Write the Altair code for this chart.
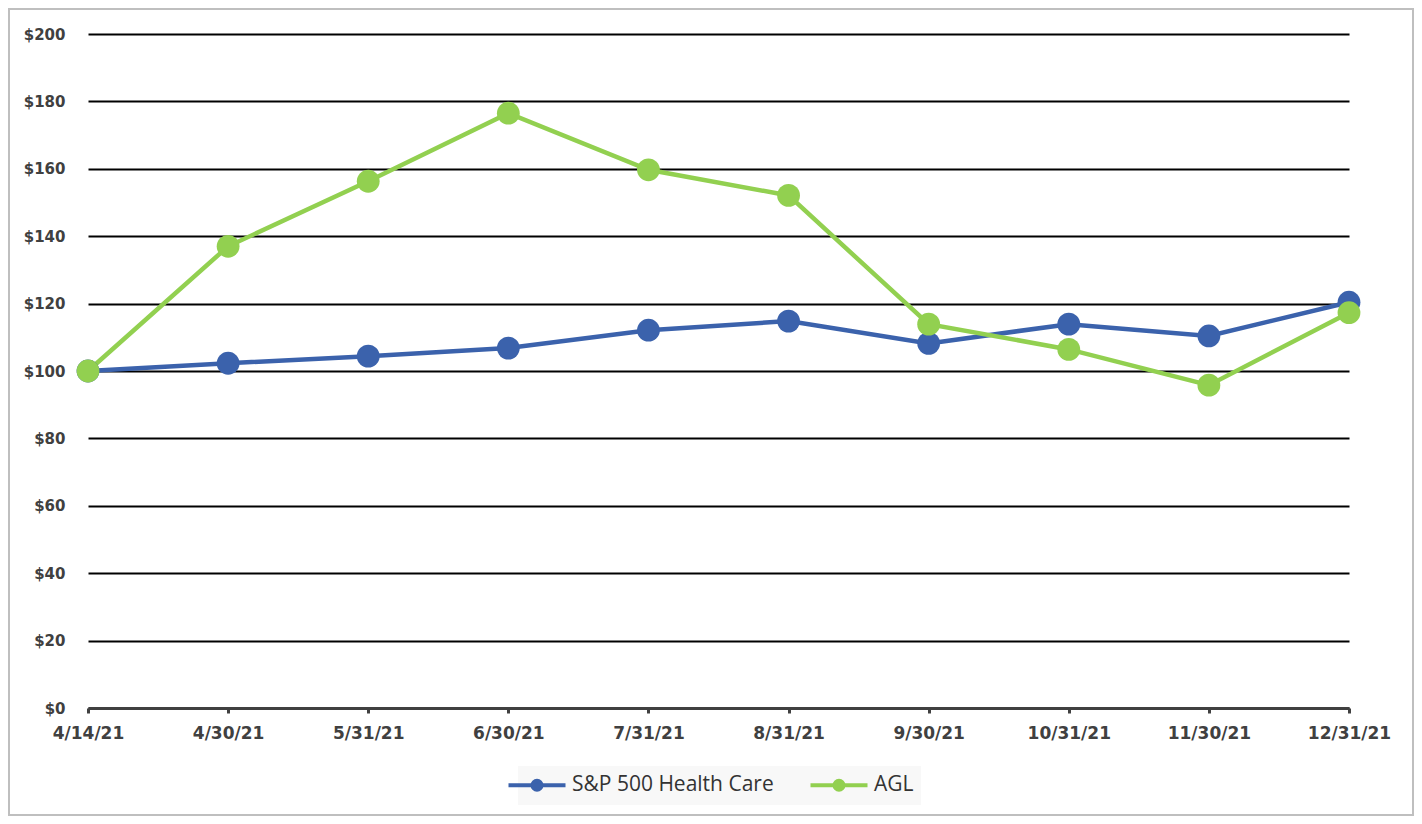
import altair as alt
import pandas as pd

dates = ["4/14/21", "4/30/21", "5/31/21", "6/30/21", "7/31/21", "8/31/21",
         "9/30/21", "10/31/21", "11/30/21", "12/31/21"]
sp_health = [100, 102.3, 104.4, 106.8, 112.1, 114.8, 108.2, 113.9, 110.4, 120.4]
agl = [100, 137.0, 156.3, 176.5, 159.7, 152.1, 113.9, 106.4, 95.8, 117.3]
series_names = ["S&P 500 Health Care", "AGL"]
colors = ["#3B62AC", "#92D050"]
y_ticks = [0, 20, 40, 60, 80, 100, 120, 140, 160, 180, 200]

rows = []
for name, vals in zip(series_names, [sp_health, agl]):
    for d, v in zip(dates, vals):
        rows.append({"date": d, "value": v, "series": name})
df = pd.DataFrame(rows)

W, H = 1261, 674
PL, PT, PR, PB = 80, 26, 65, 108

color_scale = alt.Scale(domain=series_names, range=colors)
# symbol size 400 -> unit = 10px; line spans 57px, dot radius ~4.5px + stroke
sym_path = "M-2.85,0L2.85,0M-0.45,0A0.45,0.45,0,1,1,0.45,0A0.45,0.45,0,1,1,-0.45,0Z"
legend = alt.Legend(
    title=None, orient="none", direction="horizontal",
    legendX=430, legendY=732,
    symbolType=sym_path, symbolSize=400, symbolStrokeWidth=4,
    labelFont="Open Sans", labelFontSize=21, labelColor="#333333",
    labelOffset=23, labelLimit=400, columnPadding=28, padding=7,
    fillColor="#f8f8f8",
)

x_enc = alt.X("date:N", sort=dates, scale=alt.Scale(paddingOuter=0, padding=0),
              axis=alt.Axis(title=None, labelAngle=0, labelFont="DejaVu Sans",
                            labelFontWeight="bold", labelFontSize=17,
                            labelColor="#404040", labelPadding=12,
                            domainColor="#404040", domainWidth=3,
                            tickColor="#404040", tickWidth=3, tickSize=5,
                            grid=False))
y_enc = alt.Y("value:Q", scale=alt.Scale(domain=[0, 200], nice=False),
              axis=alt.Axis(title=None, values=y_ticks, labelExpr="'$' + datum.value",
                            labelFont="DejaVu Sans", labelFontWeight="bold",
                            labelFontSize=15, labelColor="#404040",
                            labelPadding=23, ticks=False, domain=False,
                            grid=True, gridColor="#000000", gridWidth=2))

base = alt.Chart(df)
lines = base.mark_line(strokeWidth=4.5).encode(
    x=x_enc, y=y_enc,
    color=alt.Color("series:N", scale=color_scale, sort=series_names, legend=legend),
)
points = base.mark_point(filled=True, size=520, opacity=1).encode(
    x=x_enc, y=y_enc,
    color=alt.Color("series:N", scale=color_scale, sort=series_names, legend=legend),
)

border = alt.Chart(pd.DataFrame({"a": [0]})).mark_rect(
    filled=False, stroke="#bfbfbf", strokeWidth=2
).encode(
    x=alt.value(-PL + 1), x2=alt.value(W + PR - 1),
    y=alt.value(-PT + 1), y2=alt.value(H + PB - 1),
)

chart = alt.layer(lines, points, border).properties(
    width=W, height=H,
    autosize=alt.AutoSizeParams(type="none"),
    padding={"left": PL, "top": PT, "right": PR, "bottom": PB},
).configure(background="white").configure_view(stroke=None, strokeWidth=0)

chart.save("out.html", embed_options={"renderer": "svg", "actions": False})
